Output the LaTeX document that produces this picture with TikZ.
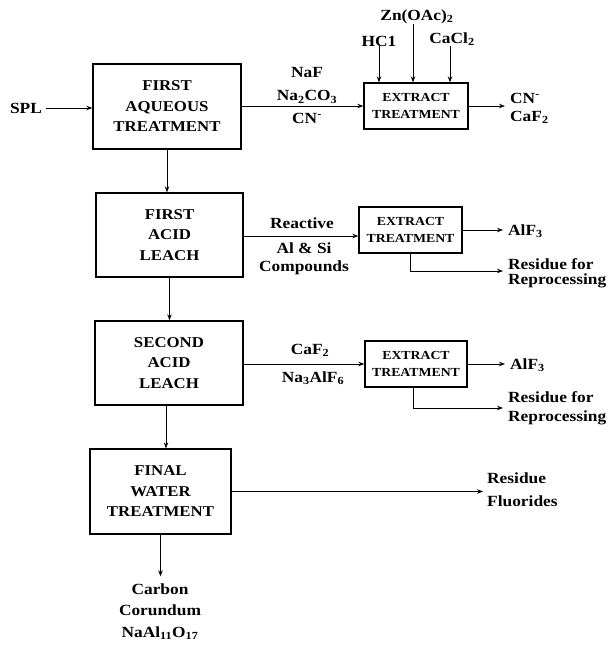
\documentclass[tikz,border=0pt]{standalone}
\usepackage{fontspec}
\setmainfont{Liberation Serif}[FakeStretch=1.12]
\usetikzlibrary{arrows.meta}
\begin{document}
\begin{tikzpicture}[x=1pt,y=-1pt,
  proc/.style={draw, line width=1.3pt, align=center, inner sep=0pt,
    font=\bfseries\fontsize{15}{20.5}\selectfont},
  ext/.style={draw, line width=1.3pt, align=center, inner sep=0pt,
    font=\bfseries\fontsize{12.3}{17}\selectfont},
  lbl/.style={align=center, inner sep=0pt,
    font=\bfseries\fontsize{15.5}{21.5}\selectfont},
  outl/.style={lbl, anchor=west, align=left},
  flow/.style={line width=1pt, -{Stealth[length=6pt,width=4.5pt]}}]
\useasboundingbox (0,0) rectangle (609,645);
\fill[white] (0,0) rectangle (609,645);

% main process boxes
\node[proc, minimum width=148pt, minimum height=85pt] (b1) at (167,106.5) {FIRST\\AQUEOUS\\TREATMENT};
\node[proc, minimum width=147pt, minimum height=84pt] (b2) at (169.5,235) {FIRST\\ACID\\LEACH};
\node[proc, minimum width=148pt, minimum height=84pt] (b3) at (169,363) {SECOND\\ACID\\LEACH};
\node[proc, minimum width=141pt, minimum height=85pt] (b4) at (160.5,491.5) {FINAL\\WATER\\TREATMENT};

% extract treatment boxes
\node[ext, minimum width=104pt, minimum height=46pt] (e1) at (416,106) {EXTRACT\\TREATMENT};
\node[ext, minimum width=103pt, minimum height=46pt] (e2) at (410.5,230) {EXTRACT\\TREATMENT};
\node[ext, minimum width=102pt, minimum height=46pt] (e3) at (416,364) {EXTRACT\\TREATMENT};

% labels
\node[lbl] (spl) at (26,108) {SPL};
\node[lbl, font=\bfseries\fontsize{15.5}{23}\selectfont] (l1) at (307,85.5) {NaF\\Na\textsubscript{2}CO\textsubscript{3}};
\node[lbl] (l1c) at (307,118) {CN\textsuperscript{-}};
\node[lbl] (hcl) at (379,41) {HC1};
\node[lbl] (zn) at (417,17) {Zn(OAc)\textsubscript{2}};
\node[lbl] (cacl) at (452,39) {CaCl\textsubscript{2}};
\node[outl, font=\bfseries\fontsize{15.5}{18}\selectfont] (o1) at (510,108) {CN\textsuperscript{-}\\CaF\textsubscript{2}};

\node[lbl] (l2a) at (302,223) {Reactive};
\node[lbl, font=\bfseries\fontsize{15.5}{18}\selectfont] (l2b) at (304,259) {Al \& Si\\Compounds};
\node[outl] (o2) at (508,231) {AlF\textsubscript{3}};
\node[outl, font=\bfseries\fontsize{15.5}{15}\selectfont] (r2) at (508,273) {Residue for\\Reprocessing};

\node[lbl] (l3a) at (310,350) {CaF\textsubscript{2}};
\node[lbl] (l3b) at (313,378) {Na\textsubscript{3}AlF\textsubscript{6}};
\node[outl] (o3) at (510,365) {AlF\textsubscript{3}};
\node[outl, font=\bfseries\fontsize{15.5}{19}\selectfont] (r3) at (508,408) {Residue for\\Reprocessing};

\node[outl, font=\bfseries\fontsize{15.5}{23}\selectfont] (o4) at (487,490) {Residue\\Fluorides};
\node[lbl] (prod) at (160,611.5) {Carbon\\Corundum\\NaAl\textsubscript{11}O\textsubscript{17}};

% connectors
\draw[flow] (spl.east) ++(4pt,0) -- (spl.east -| b1.west);
\draw[flow] (b1.east |- e1.west) -- (e1.west);
\draw[flow] (hcl.south) -- (hcl.south |- e1.north);
\draw[flow] ([xshift=-4pt]zn.south) -- ([xshift=-4pt]zn.south |- e1.north);
\draw[flow] ([xshift=-2pt]cacl.south) -- ([xshift=-2pt]cacl.south |- e1.north);
\draw[flow, shorten >=5pt] (e1.east) -- (e1.east -| o1.west);

\draw[flow] (b1.south) -- (b1.south |- b2.north);
\draw[flow] ([yshift=-6pt]e2.west -| b2.east) -- ([yshift=-6pt]e2.west);
\draw[flow, shorten >=5pt] (e2.east) -- (e2.east -| o2.west);
\draw[flow, shorten >=5pt] (e2.south) |- ([yshift=2pt]r2.west);

\draw[flow] (b2.south) -- (b2.south |- b3.north);
\draw[flow] (b3.east |- e3.west) -- (e3.west);
\draw[flow, shorten >=5pt] (e3.east) -- (e3.east -| o3.west);
\draw[flow, shorten >=5pt] ([xshift=-3pt]e3.south) |- (r3.west);

\draw[flow] ([xshift=-3pt]b3.south) -- ([xshift=-3pt]b3.south |- b4.north);
\draw[flow, shorten >=4pt] (b4.east) -- (b4.east -| o4.west);
\draw[flow, shorten >=7pt] (b4.south) -- (b4.south |- prod.north);
\end{tikzpicture}
\end{document}
